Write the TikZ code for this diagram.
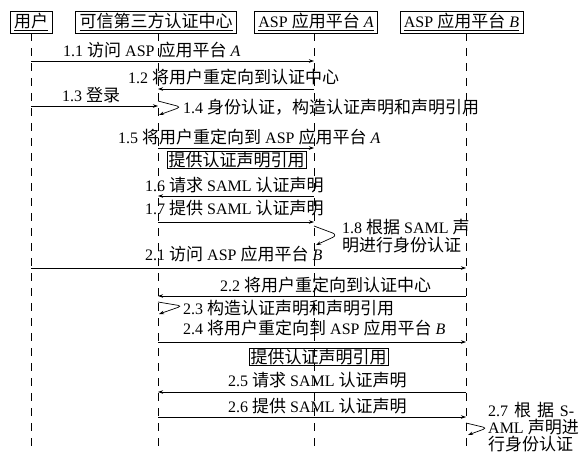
\documentclass[tikz,border=0pt]{standalone}
\usepackage{fontspec}
\setmainfont{Liberation Serif}
\newfontfamily\zhfont[Scale=1.0625]{Noto Sans CJK SC}
\newcommand\zh[1]{{\zhfont #1}}
\usetikzlibrary{arrows.meta}
\tikzset{
  head/.style={draw, line width=0.7pt, minimum height=22pt, inner xsep=4pt, inner ysep=1pt},
  notebox/.style={draw, line width=0.6pt, inner xsep=1.5pt, inner ysep=0.5pt},
  lbl/.style={anchor=west, inner sep=0pt},
  msg/.style={line width=0.7pt, -{Stealth[length=5pt,width=3.5pt]}},
  selfmsg/.style={msg, rounded corners=4pt},
  life/.style={line width=0.6pt, dash pattern=on 8pt off 7pt}
}
\begin{document}
\begin{tikzpicture}[x=1pt,y=-1pt,font=\fontsize{16}{18}\selectfont]
\useasboundingbox (0,0) rectangle (581,455);
% headers
\node[head] (hU) at (31,22) {\underline{\zh{用户}}};
\node[head] (hC) at (156,22) {\underline{\zh{可信第三方认证中心}}};
\node[head] (hA) at (316,22) {\underline{ASP \zh{应用平台} \textit{A}}};
\node[head] (hB) at (461.5,22) {\underline{ASP \zh{应用平台} \textit{B}}};
% lifelines
\coordinate (uT) at (31,33);  \coordinate (uE) at (31,452);
\coordinate (cT) at (158,33); \coordinate (cE) at (158,452);
\coordinate (aT) at (314,33); \coordinate (aE) at (314,452);
\coordinate (bT) at (466,33); \coordinate (bE) at (466,452);
\draw[life] (uT) -- (uE);
\draw[life] (cT) -- (cE);
\draw[life] (aT) -- (aE);
\draw[life] (bT) -- (bE);
% 1.1
\coordinate (u11) at (31,61); \coordinate (a11) at (314,61);
\draw[msg] (u11) -- (a11);
\node[lbl] (l11) at (63,50) {1.1 \zh{访问} ASP \zh{应用平台} \textit{A}};
% 1.2
\coordinate (a12) at (314,89); \coordinate (c12) at (158,89);
\draw[msg] (a12) -- (c12);
\node[lbl] (l12) at (128,77) {1.2 \zh{将用户重定向到认证中心}};
% 1.3
\coordinate (u13) at (31,106); \coordinate (c13) at (158,106);
\draw[msg] (u13) -- (c13);
\node[lbl] (l13) at (62,95) {1.3 \zh{登录}};
% 1.4
\coordinate (c14s) at (158,101); \coordinate (c14t) at (181,107); \coordinate (c14e) at (159,115);
\draw[selfmsg] (c14s) -- (c14t) -- (c14e);
\node[lbl] (l14) at (183,107) {1.4 \zh{身份认证，构造认证声明和声明引用}};
% 1.5
\coordinate (c15) at (158,148); \coordinate (a15) at (314,148);
\draw[msg] (c15) -- (a15);
\node[lbl] (l15) at (118,137) {1.5 \zh{将用户重定向到} ASP \zh{应用平台} \textit{A}};
\node[notebox] (n1) at (236.5,160) {\zh{提供认证声明引用}};
% 1.6
\coordinate (a16) at (314,196); \coordinate (c16) at (158,196);
\draw[msg] (a16) -- (c16);
\node[lbl] (l16) at (145,185) {1.6 \zh{请求} SAML \zh{认证声明}};
% 1.7
\coordinate (c17) at (158,222); \coordinate (a17) at (314,222);
\draw[msg] (c17) -- (a17);
\node[lbl] (l17) at (145,208) {1.7 \zh{提供} SAML \zh{认证声明}};
% 1.8
\coordinate (a18s) at (314,226); \coordinate (a18t) at (338,235); \coordinate (a18e) at (316,245);
\draw[selfmsg, rounded corners=6pt] (a18s) -- (a18t) -- (a18e);
\node[lbl] (l18a) at (342,227) {1.8 \zh{根据} SAML \zh{声}};
\node[lbl] (l18b) at (342,245) {\zh{明进行身份认证}};
% 2.1
\coordinate (u21) at (31,268); \coordinate (b21) at (466,268);
\draw[msg] (u21) -- (b21);
\node[lbl] (l21) at (145,254) {2.1 \zh{访问} ASP \zh{应用平台} \textit{B}};
% 2.2
\coordinate (b22) at (466,296); \coordinate (c22) at (158,296);
\draw[msg] (b22) -- (c22);
\node[lbl] (l22) at (220,285) {2.2 \zh{将用户重定向到认证中心}};
% 2.3
\coordinate (c23s) at (158,302); \coordinate (c23t) at (182,306); \coordinate (c23e) at (159,314);
\draw[selfmsg] (c23s) -- (c23t) -- (c23e);
\node[lbl] (l23) at (183,308) {2.3 \zh{构造认证声明和声明引用}};
% 2.4
\coordinate (c24) at (158,342); \coordinate (b24) at (466,342);
\draw[msg] (c24) -- (b24);
\node[lbl] (l24) at (183,328) {2.4 \zh{将用户重定向到} ASP \zh{应用平台} \textit{B}};
\node[notebox] (n2) at (318.5,357) {\zh{提供认证声明引用}};
% 2.5
\coordinate (b25) at (466,392); \coordinate (c25) at (158,392);
\draw[msg] (b25) -- (c25);
\node[lbl] (l25) at (228,380) {2.5 \zh{请求} SAML \zh{认证声明}};
% 2.6
\coordinate (c26) at (158,417); \coordinate (b26) at (466,417);
\draw[msg] (c26) -- (b26);
\node[lbl] (l26) at (228,406) {2.6 \zh{提供} SAML \zh{认证声明}};
% 2.7
\coordinate (b27s) at (466,423); \coordinate (b27t) at (487,428); \coordinate (b27e) at (468,435);
\draw[selfmsg] (b27s) -- (b27t) -- (b27e);
\node[lbl] (l27a) at (488,410) {\makebox[86pt][s]{2.7 \zh{根} \zh{据} S-}};
\node[lbl] (l27b) at (488,427) {AML \zh{声明进}};
\node[lbl] (l27c) at (488,444) {\zh{行身份认证}};
\end{tikzpicture}
\end{document}
